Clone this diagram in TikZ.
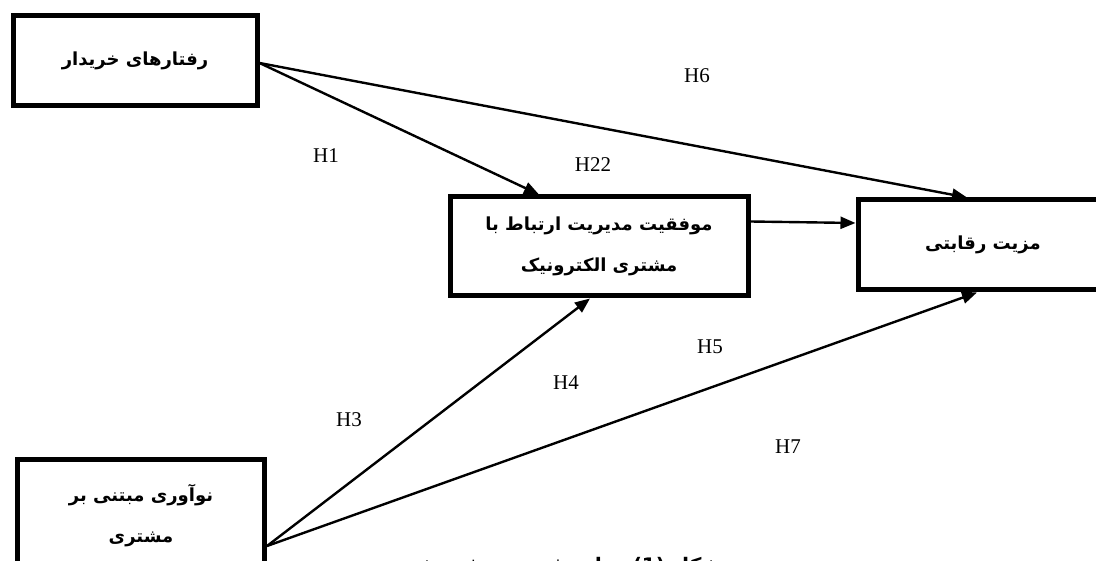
\documentclass[tikz,border=0pt]{standalone}
\usepackage{fontspec}
\setmainfont{Liberation Serif}
\newfontfamily\arabicfont[Script=Arabic]{DejaVu Sans}
\TeXXeTstate=1
\usetikzlibrary{arrows.meta}
\newcommand\pfont{\arabicfont\bfseries\fontsize{18}{41}\selectfont}
\newcommand\capfont{\arabicfont\bfseries\fontsize{20}{24}\selectfont}
\begin{document}
\begin{tikzpicture}[x=1pt,y=-1pt,
  box/.style={draw, line width=5pt, inner sep=0pt, align=center, font=\pfont},
  link/.style={line width=2.4pt, -{Triangle[length=15pt,width=12pt]}},
  hlabel/.style={font=\fontsize{21}{24}\selectfont, inner sep=0pt}
]
\useasboundingbox (0,0) rectangle (1096,561);
\node[box, minimum width=244pt, minimum height=90pt] (b1) at (135,61) {\beginR رفتارهای خریدار\endR};
\node[box, minimum width=298pt, minimum height=99pt] (b2) at (599,246.5) {\beginR موفقیت مدیریت ارتباط با\endR\\\beginR مشتری الکترونیک\endR};
\node[box, minimum width=250pt, minimum height=90pt] (b3) at (983,245) {\beginR مزیت رقابتی\endR};
\node[box, minimum width=247pt, minimum height=112pt] (b4) at (141,516) {\beginR نوآوری مبتنی بر\endR\\\beginR مشتری\endR};
\node[font=\capfont, inner sep=0pt] (cap) at (566,567) {\beginR شکل \beginL(1)\endL{} مدل مفهومی پژوهش\endR};

\draw[link] ([yshift=-2]b1.east) -- ([xshift=-60]b2.north);
\draw[link] ([yshift=-2]b1.east) -- ([xshift=-16]b3.north);
\draw[link] ([yshift=25]b2.east) -- ([yshift=22]b3.west);
\draw[link] ([yshift=-30]b4.east) -- ([xshift=-9]b2.south);
\draw[link] ([yshift=-30]b4.east) -- ([xshift=-6]b3.south);

\node[hlabel] (h6) at (697,76) {H6};
\node[hlabel] (h1) at (326,156) {H1};
\node[hlabel] (h22) at (593,165) {H22};
\node[hlabel] (h5) at (710,347) {H5};
\node[hlabel] (h4) at (566,383) {H4};
\node[hlabel] (h3) at (349,420) {H3};
\node[hlabel] (h7) at (788,447) {H7};
\end{tikzpicture}
\end{document}
